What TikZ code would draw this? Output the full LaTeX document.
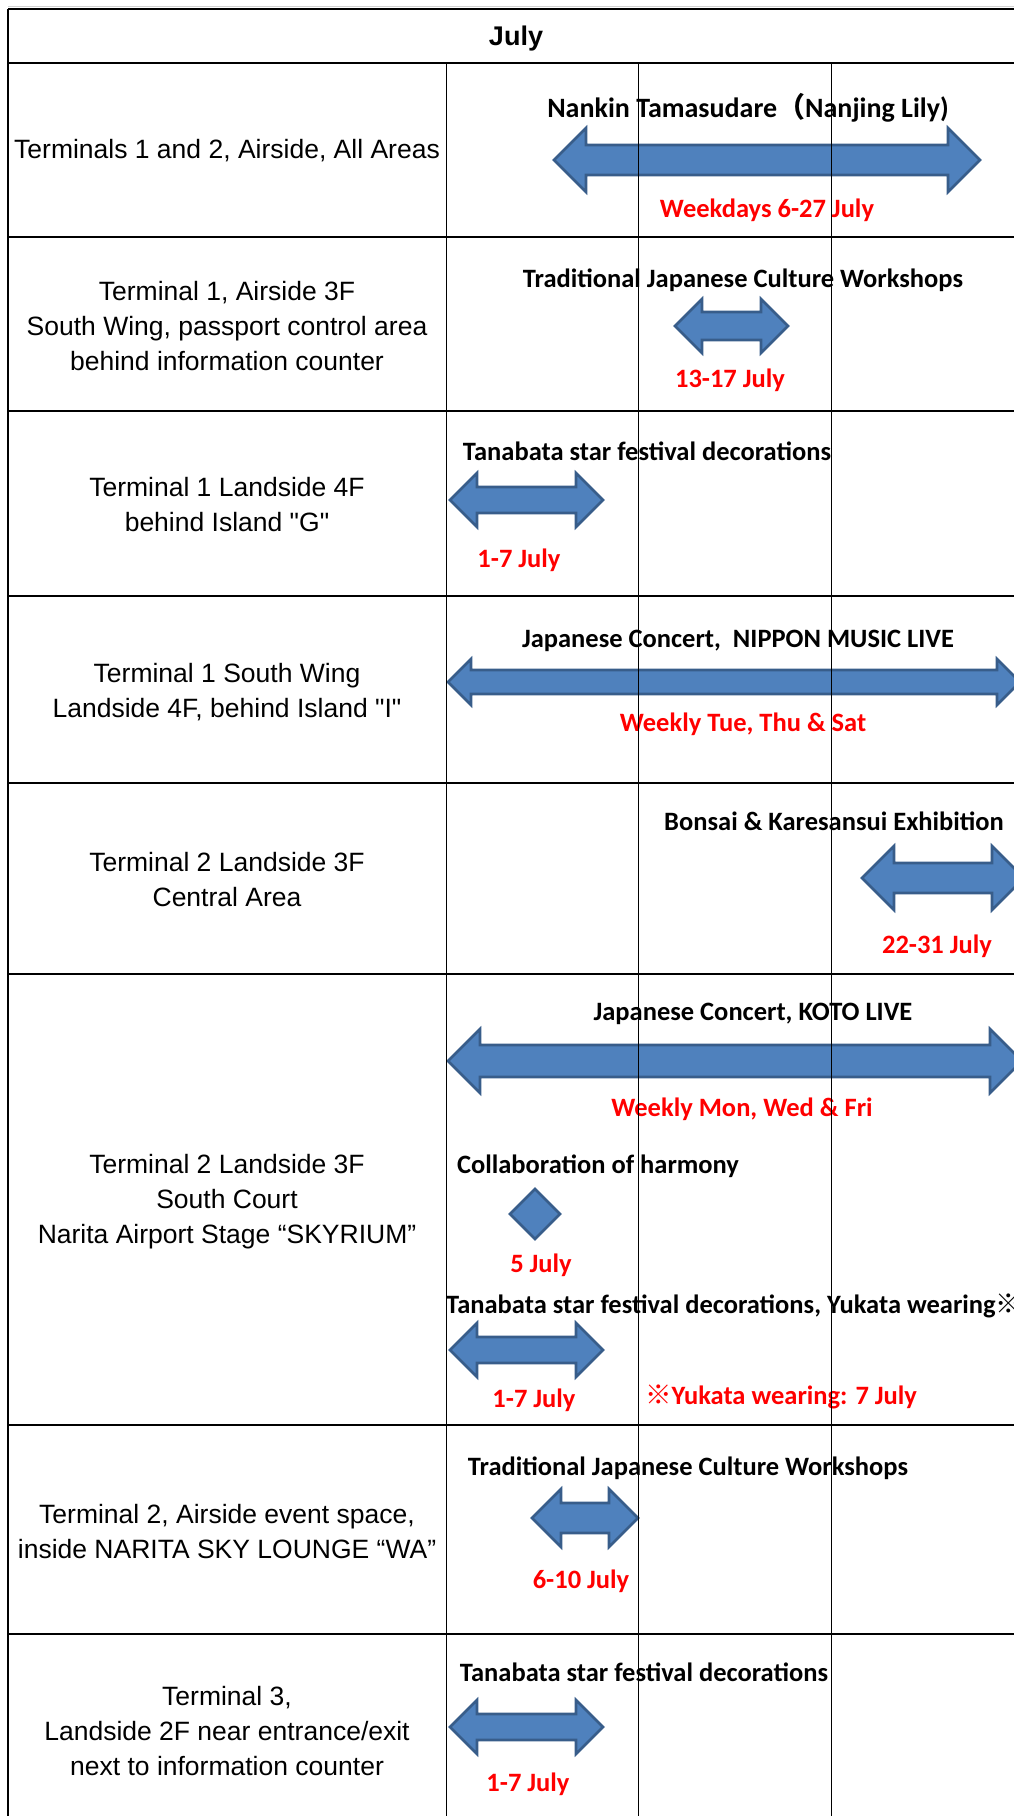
\documentclass[tikz,border=0pt]{standalone}
\usepackage{fontspec}
\setmainfont{Liberation Sans}
\newfontfamily\evtfont{Carlito}
\newfontfamily\cjk{Noto Sans CJK JP}
\usepackage{tikz}
\usetikzlibrary{calc,positioning}
\definecolor{barFill}{RGB}{79,129,189}
\definecolor{barLine}{RGB}{56,93,138}
\definecolor{dateRed}{RGB}{255,0,0}

\begin{document}
\begin{tikzpicture}[x=1pt,y=-1pt,
    place/.style={align=center,inner sep=0pt,font=\fontsize{26.5}{35}\selectfont},
    evt/.style={inner sep=0pt,text height=17pt,text depth=5pt,font=\evtfont\bfseries\fontsize{26.5}{30}\selectfont},
    date/.style={evt,text=dateRed},
    bar/.style={fill=barFill,draw=barLine,line width=2.6pt,line join=miter}]

      \useasboundingbox (0,0) rectangle (1014,1816);
      \clip (0,0) rectangle (1014,1816);

      % draw the event bars (left tip / right tip / centre / head / shaft)
      \foreach \xa/\xb/\yc/\hw/\sw in {554/980/160/32/15,
        675/788/326/27/14,
        450/603/500/27/13,
        448/1020/682/23/12,
        862/1024/878/32/15,
        448/1022/1061/32/16,
        450/603/1350/27/13,
        532/638/1518/29/15,
        450/603/1727/27/13}
      \draw[bar] (\xa,\yc) -- (\xa+\hw,\yc-\hw) -- (\xa+\hw,\yc-\sw) -- (\xb-\hw,\yc-\sw)
        -- (\xb-\hw,\yc-\hw) -- (\xb,\yc) -- (\xb-\hw,\yc+\hw) -- (\xb-\hw,\yc+\sw)
        -- (\xa+\hw,\yc+\sw) -- (\xa+\hw,\yc+\hw) -- cycle;

      % one day only
      \draw[bar] (535,1189) -- (560,1214) -- (535,1239) -- (510,1214) -- cycle;

      % header
      \node[font=\bfseries\fontsize{27}{30}\selectfont] (month) at (516,39) {July};

      % the places
      \node[place] (area1) at (227,151) {Terminals 1 and 2, Airside, All Areas};
      \node[place] (area2) at (227,326) {Terminal 1, Airside 3F\\South Wing, passport control area\\behind information counter};
      \node[place] (area3) at (227,505) {Terminal 1 Landside 4F\\behind Island \textquotedbl G\textquotedbl};
      \node[place] (area4) at (227,692) {Terminal 1 South Wing\\Landside 4F, behind Island \textquotedbl I\textquotedbl};
      \node[place] (area5) at (227,880) {Terminal 2 Landside 3F\\Central Area};
      \node[place] (area6) at (227,1202) {Terminal 2 Landside 3F\\South Court\\Narita Airport Stage “SKYRIUM”};
      \node[place] (area7) at (227,1532) {Terminal 2, Airside event space,\\inside NARITA SKY LOUNGE “WA”};
      \node[place] (area8) at (227,1731) {Terminal 3,\\Landside 2F near entrance/exit\\next to information counter};

      % the events and their dates
      \node[evt,font=\evtfont\bfseries\fontsize{28}{30}\selectfont] (lily) at (748,111) {Nankin Tamasudare{\cjk （}Nanjing Lily)};
      \node[date] (lilyDate) at (767,211) {Weekdays 6-27 July};
      \node[evt] (shopA) at (743,281) {Traditional Japanese Culture Workshops};
      \node[date] (shopADate) at (730,381) {13-17 July};
      \node[evt] (starA) at (647,454) {Tanabata star festival decorations};
      \node[date] (starADate) at (519,561) {1-7 July};
      \node[evt] (nippon) at (738,641) {Japanese Concert,~ NIPPON MUSIC LIVE};
      \node[date] (nipponDate) at (743,725) {Weekly Tue, Thu \& Sat};
      \node[evt] (bonsai) at (834,824) {Bonsai \& Karesansui Exhibition};
      \node[date] (bonsaiDate) at (937,947) {22-31 July};
      \node[evt] (koto) at (753,1014) {Japanese Concert, KOTO LIVE};
      \node[date] (kotoDate) at (742,1110) {Weekly Mon, Wed \& Fri};
      \node[evt] (harmony) at (598,1167) {Collaboration of harmony};
      \node[date] (harmonyDate) at (541,1266) {5 July};
      \node[evt,anchor=west] (starB) at (446,1307) {Tanabata star festival decorations, Yukata wearing{\cjk ※}};
      \node[date] (starBDate) at (534,1401) {1-7 July};
      \node[date] (yukata) at (781,1398) {{\cjk ※}Yukata wearing: 7 July};
      \node[evt] (shopB) at (688,1469) {Traditional Japanese Culture Workshops};
      \node[date] (shopBDate) at (581,1582) {6-10 July};
      \node[evt] (starC) at (644,1675) {Tanabata star festival decorations};
      \node[date] (starCDate) at (528,1785) {1-7 July};

      % draw the grid on top
      \draw[gray!35,line width=1pt] (8,6.3) -- (1014,6.3);
      \foreach \y in {9,63,237,411,596,783,974,1425,1634}
      \draw[line width=1.7pt] (8,\y) -- (1014,\y);
      \draw[line width=1.7pt] (8,9) -- (8,1816);
      \foreach \x in {446,638,831}
      \draw[line width=1pt] (\x,63) -- (\x,1816);

\end{tikzpicture}
\end{document}
